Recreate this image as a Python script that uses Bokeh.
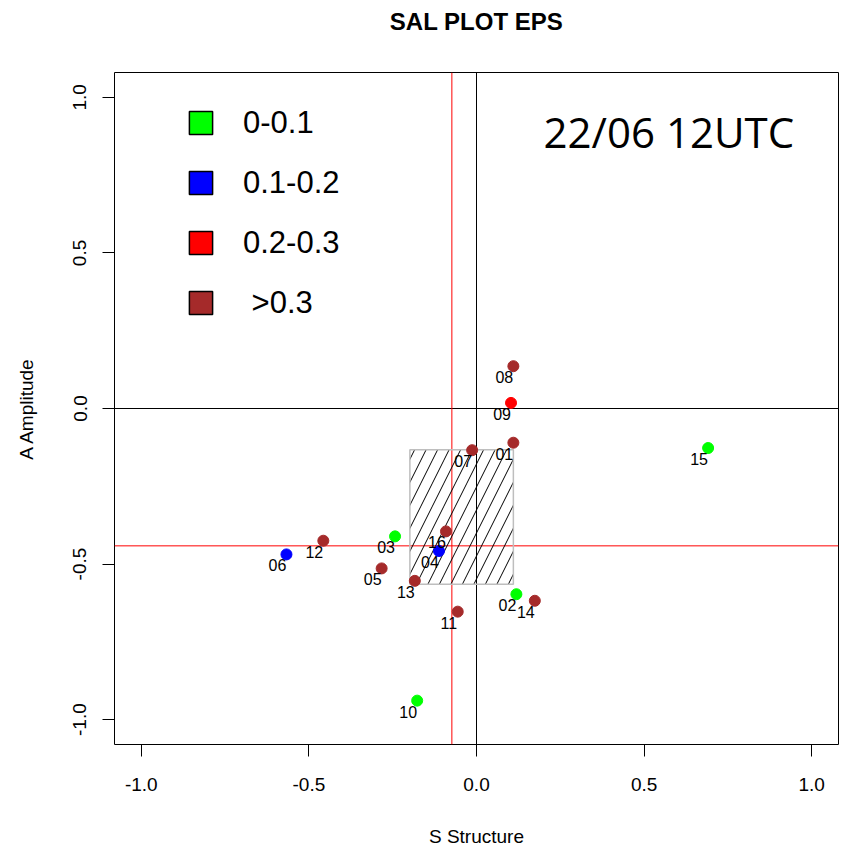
import numpy as np
from bokeh.plotting import figure
from bokeh.models import (ColumnDataSource, Span, FixedTicker, PrintfTickFormatter,
                          Legend, LegendItem, Label, LinearAxis)
from bokeh.core.properties import value
from bokeh.embed import file_html
from bokeh.resources import INLINE

# Ensemble members and their SAL scores
members = ["01", "02", "03", "04", "05", "06", "07", "08",
           "09", "10", "11", "12", "13", "14", "15", "16"]
s_structure = [0.110, 0.119, -0.243, -0.112, -0.283, -0.567, -0.013, 0.110,
               0.103, -0.177, -0.056, -0.457, -0.184, 0.174, 0.691, -0.091]
a_amplitude = [-0.110, -0.597, -0.411, -0.458, -0.514, -0.469, -0.134, 0.136,
               0.018, -0.939, -0.653, -0.425, -0.554, -0.618, -0.127, -0.395]
# Location-component class of each member
l_class = [">0.3", "0-0.1", "0-0.1", "0.1-0.2", ">0.3", "0.1-0.2", ">0.3", ">0.3",
           "0.2-0.3", "0-0.1", ">0.3", ">0.3", ">0.3", ">0.3", "0-0.1", ">0.3"]

class_labels = ["0-0.1", "0.1-0.2", "0.2-0.3", ">0.3"]
class_colors = ["#00FF00", "#0000FF", "#FF0000", "#A52A2A"]
axis_ticks = [-1.0, -0.5, 0.0, 0.5, 1.0]

FONT = "Liberation Sans"

color_of = dict(zip(class_labels, class_colors))
src = ColumnDataSource(dict(
    s=s_structure, a=a_amplitude, name=members,
    color=[color_of[c] for c in l_class],
))

# Medians and interquartile box of the ensemble
s_med = float(np.median(s_structure))
a_med = float(np.median(a_amplitude))
s_q1, s_q3 = np.percentile(s_structure, [25, 75])
a_q1, a_q3 = np.percentile(a_amplitude, [25, 75])

p = figure(width=843, height=849, x_range=(-1.08, 1.08), y_range=(-1.08, 1.08),
           output_backend="svg", toolbar_location=None,
           min_border_left=114, min_border_right=5, min_border_top=70, min_border_bottom=104,
           title="SAL PLOT EPS")
p.background_fill_color = "white"
p.border_fill_color = "white"
p.grid.visible = False
p.outline_line_color = "black"
p.outline_line_width = 1

p.title.align = "center"
p.title.text_font = FONT
p.title.text_font_size = "24px"
p.title.text_font_style = "bold"
p.title.text_color = "black"
p.title.standoff = 10

xax = p.below[0]
yax = p.left[0]
for ax in (xax, yax):
    ax.ticker = FixedTicker(ticks=axis_ticks)
    ax.formatter = PrintfTickFormatter(format="%.1f")
    ax.axis_line_color = None
    ax.major_tick_line_color = "black"
    ax.major_tick_out = 12
    ax.major_tick_in = 0
    ax.minor_tick_line_color = None
    ax.major_label_text_font = FONT
    ax.major_label_text_font_size = "19px"
    ax.major_label_text_color = "black"
    ax.axis_label_text_font = FONT
    ax.axis_label_text_font_size = "19px"
    ax.axis_label_text_font_style = "normal"
    ax.axis_label_text_color = "black"

xax.axis_label = "S Structure"
xax.major_label_standoff = 21
xax.axis_label_standoff = 32
yax.axis_label = "A Amplitude"
yax.major_label_orientation = "vertical"
yax.major_label_standoff = 16
yax.axis_label_standoff = 34

# Blank spacer between the title and the plotting box: one invisible tick
spacer = LinearAxis(ticker=FixedTicker(ticks=[0.0]), axis_line_color=None,
                    major_tick_line_color=None, minor_tick_line_color=None,
                    major_tick_out=33, major_tick_in=0, major_label_standoff=0,
                    major_label_overrides={0: ""}, major_label_text_font_size="0px")
p.add_layout(spacer, "above")

# Reference lines at zero and at the ensemble medians
for loc, dim, col in [(0, "width", "black"), (0, "height", "black"),
                      (a_med, "width", "red"), (s_med, "height", "red")]:
    p.add_layout(Span(location=loc, dimension=dim, line_color=col,
                      line_width=1, level="underlay"))

# Hatched interquartile box
p.quad(left=[s_q1], right=[s_q3], bottom=[a_q1], top=[a_q3],
       fill_alpha=0, line_color="#BEBEBE", line_width=1.5,
       hatch_pattern="/", hatch_color="black", hatch_scale=23, hatch_weight=1)

# Members
p.scatter("s", "a", source=src, size=11, fill_color="color", line_color="color")
p.text("s", "a", text="name", source=src, x_offset=-9, y_offset=11,
       text_align="center", text_baseline="middle",
       text_font=value(FONT), text_font_size="16px", text_color="black")

# Legend of location classes (swatch-only renderers, nothing drawn in the plot)
items = []
for lab, col in zip(class_labels, class_colors):
    r = p.quad(left=[np.nan], right=[np.nan], bottom=[np.nan], top=[np.nan],
               fill_color=col, line_color="black", line_width=1.5)
    shown = "\u00a0" + lab if lab.startswith(">") else lab
    items.append(LegendItem(label=shown, renderers=[r]))
legend = Legend(items=items, location=(72, 413), orientation="vertical",
                glyph_width=29, glyph_height=29, label_height=57, spacing=3,
                padding=0, margin=0,
                label_standoff=28, label_text_font=FONT, label_text_font_size="31px",
                label_text_color="black", border_line_color=None,
                background_fill_alpha=0)
p.add_layout(legend)

p.add_layout(Label(x=0.2, y=0.89, text="22/06 12UTC", text_font="Open Sans",
                   text_font_size="42px", text_color="black",
                   text_align="left", text_baseline="alphabetic"))

open("out.html", "w").write(file_html(p, INLINE))
